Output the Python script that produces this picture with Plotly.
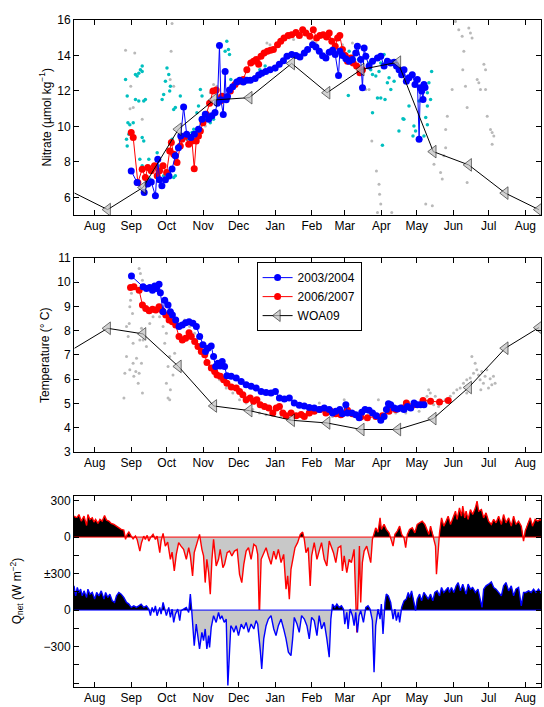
import numpy as np
import pandas as pd
import plotly.graph_objects as go

# ---------------- data (days since 1 Aug of first year) ----------------
MONTH_LABELS = ["Aug", "Sep", "Oct", "Nov", "Dec", "Jan", "Feb", "Mar", "Apr", "May", "Jun", "Jul", "Aug"]

WOA_DAY = [-17, 11, 41, 71, 101, 131, 167, 197, 226, 257, 287, 317, 348, 376.5]
WOA_NO3 = [6.24, 5.31, 6.56, 9.84, 11.49, 11.62, 13.55, 11.90, 13.21, 13.62, 8.58, 7.83, 6.24, 5.31]
WOA_T = [7.28, 8.10, 7.87, 6.53, 4.90, 4.71, 4.31, 4.20, 3.93, 3.93, 4.38, 5.66, 7.28, 8.13]

B_NO3_DAY = [31, 36, 42, 45, 48, 51.5, 53.5, 55, 57, 60, 63, 65.6, 68.4, 71, 73, 75.4, 78, 81.6, 84.5, 88,
             91, 93.8, 96.6, 99.4, 102, 104, 105.8, 107, 109, 110.6, 111.5, 112.6, 114.3, 117, 120.5, 123,
             126, 129, 132, 136, 139, 141.6, 145, 148.6, 153, 156.5, 160, 163, 167, 170.6, 174, 177.7,
             180.5, 184.7, 187.5, 190.4, 193.2, 196, 198.8, 201.6, 203.9, 206.7, 207.8, 210, 212.9, 215.7,
             218.5, 221.3, 222.7, 225.5, 227, 228.4, 229.8, 232.6, 235.5, 239.7, 242.5, 245.3, 248.1,
             250.9, 253.8, 255.8, 258, 260.2, 262.2, 264.2, 266.4, 269.2, 271.5, 273.5, 275, 276, 277.2,
             278.3, 279.1, 280]
B_NO3 = [7.49, 6.84, 6.28, 6.75, 6.87, 6.09, 8.15, 7.0, 6.65, 7.0, 7.2, 7.6, 8.34, 8.8, 9.46, 11.1, 9.56,
         9.37, 9.56, 9.84, 10.4, 10.68, 10.4, 10.6, 10.78, 11.3, 14.56, 11.5, 10.67, 13.1, 11.5, 11.68,
         12.05, 12.24, 12.5, 12.6, 12.5, 12.6, 12.6, 12.7, 12.9, 13.0, 13.1, 13.2, 13.3, 13.5, 13.7, 13.96,
         14.05, 14.0, 13.92, 14.14, 14.33, 14.6, 14.48, 14.24, 13.99, 13.86, 14.18, 14.3, 14.05, 12.87,
         14.24, 14.0, 13.81, 13.68, 13.77, 14.14, 14.52, 13.77, 12.18, 14.42, 13.96, 13.4, 13.68, 13.86,
         13.96, 13.4, 13.68, 13.58, 13.62, 13.4, 13.2, 12.92, 13.2, 12.55, 12.74, 12.92, 12.37, 12.64,
         9.27, 12.18, 11.99, 11.52, 12.37, 12.2]

R_NO3_DAY = [31, 32.7, 36.6, 40.3, 43, 45, 48, 50.7, 53, 55, 58, 61, 63.6, 65, 67, 69.8, 72.6, 74, 76.8,
             79.7, 82.5, 84.4, 86.1, 88, 89.6, 91.8, 94.6, 97.4, 100.3, 103, 106.4, 108, 110.6, 115, 119,
             122.8, 126, 129, 132.3, 134.7, 137, 139, 141, 143.6, 146.4, 149, 151.5, 155, 157.7, 160.5,
             164, 167, 170.6, 173.5, 176.3, 179, 182.4, 185.3, 188.1, 190.9, 193.7, 196.6, 198.8, 201,
             203.9, 205.9, 207.8, 210, 212.4, 214.3, 217.2, 219.1, 222, 224.8, 227]
R_NO3 = [9.65, 9.37, 6.84, 7.59, 7.12, 7.68, 7.5, 7.78, 7.22, 7.5, 7.78, 7.4, 8.62, 9.09, 8.43, 7.96, 8.9,
         9.28, 9.46, 9.0, 9.18, 7.62, 9.18, 9.46, 9.74, 10.2, 10.68, 11.3, 11.99, 12.05, 11.43, 11.7, 11.6,
         11.99, 12.37, 12.55, 12.65, 13.2, 13.58, 13.68, 13.77, 13.5, 13.96, 14.14, 14.24, 14.3, 14.33,
         14.61, 14.8, 14.99, 15.12, 15.17, 15.3, 15.12, 15.45, 15.27, 15.08, 15.45, 14.99, 15.12, 15.17,
         15.04, 15.27, 14.8, 14.52, 14.99, 15.12, 14.33, 14.0, 13.68, 13.86, 13.58, 13.4, 13.02, 13.2]

C_NO3_DAY = [26.2, 27.6, 28.2, 29, 27, 27.6, 29.8, 32.7, 34.6, 36, 37.4, 38.8, 40.3, 40.3, 34.6, 37.4, 41.6,
             43, 40.3, 41.6, 38.3, 40.3, 43, 46.8, 45.9, 57.2, 58.5, 60, 61.3, 62.8, 64.2, 63.6, 67, 68.4,
             72.6, 65.6, 67, 68.4, 62.8, 53, 55.8, 58.5, 89.6, 91, 88, 86.7, 93.8, 98, 100.8, 102.2, 78.3,
             81.1, 82.5, 84, 112, 113.4, 110.6, 114.3, 115.4, 140, 144.5, 148.6, 153, 155.7, 215.7, 218.5,
             221.3, 223.6, 231.2, 232.6, 234, 235.5, 238.3, 241, 242.5, 245.3, 247.3, 249.5, 248.1, 239.7,
             242.5, 246.1, 251, 253.8, 235.5, 243.9, 261.3, 257.9, 262.1, 266.4, 270.6, 272, 279.1, 282,
             283.3, 284.7, 285.6, 282, 280.6, 282, 275, 269.8, 215]
C_NO3 = [12.65, 11.71, 10.2, 9.56, 9.28, 8.9, 10.1, 10.2, 12.93, 12.84, 13.0, 13.2, 13.4, 13.1, 11.52, 11.43,
         11.43, 11.52, 9.37, 9.18, 8.15, 7.78, 7.22, 7.03, 8.15, 11.52, 11.8, 12.55, 13.3, 12.93, 12.27,
         11.99, 10.96, 11.06, 11.71, 9.28, 7.12, 7.22, 7.4, 8.52, 7.78, 7.22, 12.08, 11.71, 11.15, 10.77,
         10.4, 10.2, 10.4, 10.68, 9.28, 9.46, 9.65, 9.84, 14.8, 14.33, 14.24, 14.05, 12.65, 13.2, 13.4,
         13.2, 13.2, 13.4, 14.24, 13.96, 14.52, 13.77, 13.96, 13.58, 13.2, 12.93, 12.84, 13.1, 13.58, 14.05,
         13.77, 12.74, 12.46, 11.6, 11.6, 11.52, 12.08, 12.55, 10.77, 8.94, 10.43, 9.74, 10.4, 11.15, 10.02,
         9.74, 9.46, 11.9, 12.46, 11.52, 13.1, 11.15, 10.5, 10.1, 11.43, 9.46, 11.74]

G_NO3_DAY = [26.2, 34, 30.6, 30, 32.7, 40.3, 64.8, 65.6, 64, 67, 98, 100.8, 103.6, 146, 148.6, 165, 168.6,
             172.8, 93.8, 50, 53, 184.7, 187.5, 201.6, 210, 218.5, 229.8, 232.6, 234.9, 238.8, 241, 241.5,
             242.5, 239.7, 251.8, 280.6, 287.6, 296, 297.5, 298.9, 297.5, 303, 305.8, 308.6, 311.5, 312.9,
             312, 314.3, 317.1, 318.5, 319.9, 315.7, 315.7, 324.2, 325.6, 327, 329.9, 331.3, 331.3, 332.7,
             335.5, 336.9, 338.3, 336.9, 286.2, 293.2, 294.6]
G_NO3 = [14.3, 14.14, 12.27, 11.0, 11.06, 10.4, 14.24, 15.8, 12.65, 12.27, 11.9, 12.37, 12.27, 14.7, 14.6,
         14.99, 14.9, 15.27, 10.02, 7.78, 7.68, 14.8, 14.7, 14.9, 14.6, 14.7, 12.08, 12.08, 9.18, 7.49, 6.74,
         6.18, 5.62, 5.15, 5.15, 5.62, 7.87, 8.34, 8.8, 10.58, 9.83, 12.08, 15.92, 15.45, 15.08, 14.24,
         13.2, 12.27, 15.55, 15.27, 14.99, 11.06, 6.84, 12.65, 12.46, 12.08, 13.5, 13.2, 12.08, 10.58,
         9.83, 9.65, 9.46, 9.0, 5.53, 7.4, 7.03]

B_T_DAY = [31.2, 41.1, 43.9, 46.7, 49, 50.9, 52.3, 54.6, 55.7, 58, 59.4, 62.2, 64.2, 65.9, 68.7, 71.5, 74.3,
           77.1, 80, 83.3, 86.2, 89, 91.8, 94, 96, 98.8, 100.8, 102.5, 104.5, 106.4, 108.1, 110.1, 112.1,
           115.7, 120, 124.2, 128.4, 132.6, 136.9, 141.1, 145.3, 149.5, 153.2, 156.6, 160.8, 165, 169.2,
           173.5, 177.7, 181.9, 186.1, 190.4, 194.6, 198.8, 201.6, 204.4, 207.8, 210, 212.9, 214.3, 218,
           221.3, 224.2, 226.4, 229.2, 232.6, 235.5, 238.8, 242.5, 245.3, 247.3, 249, 250.9, 253.8, 256.6,
           259.4, 262.2, 265, 267.9, 270.7, 273.5, 276.3, 279.1]
B_T = [10.25, 9.81, 9.74, 9.78, 9.67, 9.84, 9.74, 9.92, 9.56, 8.78, 9.26, 9.06, 8.78, 8.65, 8.44, 8.17, 8.24,
       8.33, 8.37, 8.31, 8.17, 7.76, 7.42, 7.14, 7.28, 7.37, 6.94, 6.53, 6.66, 6.55, 6.73, 6.53, 6.14, 6.12,
       6.05, 5.91, 5.77, 5.71, 5.64, 5.5, 5.46, 5.43, 5.5, 5.23, 5.19, 5.23, 5.02, 4.93, 4.9, 4.84, 4.82,
       4.75, 4.82, 4.75, 4.61, 4.68, 4.75, 4.58, 4.95, 4.61, 4.61, 4.54, 4.41, 4.64, 4.75, 4.72, 4.61, 4.5,
       4.31, 4.47, 4.75, 4.99, 4.95, 4.82, 4.78, 4.82, 4.75, 4.88, 4.82, 5.02, 4.95, 4.95, 4.95]

R_T_DAY = [30.4, 33.3, 37.7, 40.5, 43.3, 46.2, 49, 51.8, 54.6, 57.4, 60.3, 63.1, 65.9, 68.7, 71.5, 74.3,
           77.1, 80, 81.9, 84.8, 87.6, 90.4, 93.3, 95.2, 98.9, 101.7, 103.7, 106.5, 109.3, 112.1, 115.8, 120,
           122.8, 125.6, 128.4, 131.8, 134.7, 137.5, 140.3, 144, 147.6, 151, 153.9, 156.6, 159.5, 162.3,
           166.5, 170.7, 175, 177.7, 181.9, 186.1, 191, 196, 200.2, 204.4, 208.7, 214.3, 218.5, 225.5,
           231.2, 238.3, 243.9, 249.5, 255.2, 260.8, 264.2, 270.7, 278.3, 284.7, 292.3, 299.7]
R_T = [9.78, 9.81, 9.67, 9.06, 8.92, 8.82, 8.88, 8.85, 8.99, 8.82, 8.65, 8.44, 8.37, 8.24, 7.76, 7.62, 7.69,
       7.92, 7.76, 7.56, 7.35, 7.14, 7.01, 6.69, 6.46, 6.32, 6.18, 6.12, 5.98, 5.84, 5.68, 5.64, 5.5, 5.36,
       5.16, 5.23, 5.09, 5.16, 4.95, 4.88, 4.82, 4.61, 4.82, 4.88, 4.61, 4.5, 4.61, 4.5, 4.55, 4.47, 4.61,
       4.68, 4.75, 4.61, 4.68, 4.58, 4.54, 4.72, 4.58, 4.45, 4.41, 4.47, 4.5, 4.68, 4.75, 4.82, 5.02, 4.95,
       5.13, 5.09, 5.06, 5.13]

G_T_DAY = [24.8, 27, 28.4, 29.3, 29.8, 30.4, 31.2, 32.1, 32.6, 25.6, 27, 29.8, 32.6, 33.2, 34.9, 35.5, 36.9,
           37.7, 39.7, 40.5, 38.3, 39.7, 37.7, 38.8, 40.5, 36, 41.1, 43.9, 46.7, 49.5, 52.3, 55, 58, 60.8,
           59.4, 62.2, 63.6, 60.8, 62.2, 63.6, 64.2, 66.4, 67.8, 72, 76.3, 80.5, 84.7, 89, 93.2, 97.4, 101.6,
           105.9, 111.5, 117.1, 122.8, 128.4, 134, 139.6, 145.3, 150.9, 158, 165, 173.5, 181.9, 190.4, 201.6,
           211.5, 212.9, 224.2, 229.8, 240.5, 241.6, 243.9, 255.2, 263.7, 275, 281.7, 283.1, 284.5, 285.9,
           287.3, 288.7, 291.5, 297.1, 301.4, 304.2, 307, 309.8, 312.6, 315.4, 318.3, 319.7, 321.1, 322.5,
           323.9, 325.3, 326.7, 328.1, 329.5, 330.9, 332.4, 333.8, 335.2, 336.6, 338, 339.4, 327.3, 315.4]
G_T = [5.23, 8.17, 7.76, 8.3, 8.99, 9.26, 9.54, 8.71, 7.48, 6.25, 6.94, 6.39, 6.66, 6.12, 6.32, 6.87, 5.84,
       6.25, 6.66, 5.43, 7.62, 8.1, 10.56, 10.36, 10.08, 9.74, 7.62, 7.35, 8.3, 8.58, 8.78, 8.58, 8.17, 7.9,
       7.48, 6.53, 6.94, 5.84, 5.23, 5.16, 5.57, 6.18, 7.07, 8.3, 8.44, 8.17, 7.9, 7.21, 6.94, 6.53, 6.25,
       5.98, 5.64, 5.43, 5.16, 5.02, 4.75, 4.61, 4.54, 4.61, 4.47, 4.34, 4.47, 4.54, 5.02, 4.47, 5.16, 4.61,
       4.54, 4.34, 5.16, 4.47, 4.27, 4.61, 4.61, 4.68, 5.3, 5.57, 5.43, 5.16, 4.95, 5.3, 4.88, 5.16, 5.3,
       5.43, 5.57, 5.64, 5.84, 5.98, 6.05, 6.94, 6.25, 6.66, 6.39, 6.18, 5.98, 6.32, 5.84, 6.12, 6.39, 5.64,
       6.02, 5.77, 6.12, 5.84, 5.57, 5.43]

# Net heat flux, W m-2 (red = 2006/2007, blue = 2003/2004)
QR_DAY = [-17.5, -15.2, -13.3, -11.3, -9.0, -6.8, -5.7, -4.0, -2.0, -0.6, 0.8, 2.8, 4.5, 6.4, 8.4, 10.1, 12.1,
          14.0, 16.3, 18.5, 20.5, 22.5, 24.7, 26.2, 27.6, 29.0, 31.0, 32.6, 34.6, 36.0, 38.3, 39.7, 41.6,
          43.0, 44.5, 45.9, 47.3, 49.5, 51.5, 52.9, 55.2, 56.3, 58.0, 59.9, 61.9, 64.2, 65.6, 67.5, 69.2,
          71.2, 73.2, 75.4, 77.7, 79.7, 81.1, 83.0, 84.4, 86.7, 88.9, 90.9, 92.3, 93.7, 95.1, 96.6, 98.0,
          99.4, 100.8, 103.0, 105.0, 106.4, 108.7, 110.1, 112.3, 114.3, 116.3, 118.5, 120.8, 122.8, 124.7,
          126.4, 128.4, 130.4, 132.6, 134.9, 136.8, 138.2, 139.6, 141.1, 143.3, 145.3, 147.2, 149.5, 151.8,
          153.7, 155.7, 158.0, 160.2, 162.2, 163.6, 165.0, 166.4, 167.8, 169.8, 172.0, 174.3, 176.3, 177.7,
          179.1, 181.0, 182.7, 183.9, 186.1, 188.4, 190.3, 192.3, 194.6, 196.8, 198.8, 200.2, 202.4, 204.4,
          206.4, 208.6, 210.0, 211.5, 213.7, 215.7, 217.6, 219.9, 222.2, 223.3, 224.4, 225.5, 226.9, 228.4,
          230.6, 232.6, 234.0, 235.4, 236.8, 238.2, 240.2, 241.9, 243.0, 244.7, 245.3, 247.2, 249.5, 251.7,
          252.9, 254.5, 256.5, 258.5, 260.2, 262.2, 263.6, 265.0, 266.9, 269.2, 271.4, 273.4, 275.4, 277.6,
          279.9, 281.9, 283.3, 284.7, 286.1, 287.5, 288.9, 289.7, 291.2, 292.3, 294.0, 295.9, 297.9, 299.6,
          301.6, 303.5, 305.8, 307.2, 309.2, 310.9, 312.0, 313.7, 314.8, 316.5, 318.5, 320.4, 322.7, 324.1,
          325.5, 327.8, 329.7, 331.7, 333.9, 336.2, 338.2, 340.2, 342.4, 344.7, 346.6, 348.6, 350.9, 353.1,
          355.1, 357.0, 359.3, 361.6, 363.5, 364.9, 367.2, 369.2, 371.1, 373.4, 375.6, 377.6, 379.0]
QR = [172, 158, 185, 131, 172, 95, 185, 145, 158, 123, 145, 112, 145, 131, 177, 139, 131, 112, 104, 90, 76,
      63, 57, -19, 22, 41, 8, -14, 8, -19, -115, -46, 8, -19, 14, -33, -5, 22, -19, 8, -128, -33, 30, -74,
      -41, -183, -123, -278, -142, -46, -74, -101, -183, -87, -155, -319, -128, -46, 22, -101, -155, -374,
      -183, -292, -469, -183, -19, -237, -183, -101, -251, -224, -128, -115, -155, -115, -101, -306, -374,
      -224, -115, -87, -183, -60, -74, -142, -660, -183, -128, -87, -155, -224, -115, -183, -101, -210,
      -142, -428, -319, -510, -265, -183, -87, -46, 22, 41, -19, -128, -87, -401, -155, -46, -183, -115,
      -46, -183, -237, -33, -74, -128, -210, -87, -74, -278, -155, -292, -183, -210, -101, -783, -456, -74,
      -537, -210, -115, -74, -155, -210, -19, 22, 76, 41, 158, 63, 104, 104, 63, 35, -33, -74, 22, 49, 90,
      22, -5, -87, 22, 63, 76, 35, 104, 117, 131, 104, 63, 22, 90, 35, -5, -74, -306, -46, 35, 158, 90, 131,
      172, 104, 158, 213, 145, 240, 172, 254, 158, 213, 145, 226, 185, 240, 295, 213, 226, 158, 199, 131,
      104, 145, 117, 172, 104, 185, 117, 158, 90, 172, 104, 131, 90, -33, 49, 117, 158, 90, 145, 131, 145,
      131]

QB_DAY = [-17.5, -16.1, -14.7, -13.3, -11.9, -10.5, -9.0, -6.8, -5.7, -4.0, -2.0, 0.0, 1.7, 3.6, 5.6, 7.9,
          9.3, 11.2, 12.9, 14.9, 16.9, 18.5, 20.5, 22.5, 24.7, 27.0, 29.0, 31.0, 33.2, 35.4, 37.4, 39.4,
          41.6, 43.9, 45.9, 47.3, 48.7, 50.1, 51.5, 52.9, 55.2, 56.3, 58.0, 59.1, 60.8, 62.8, 64.2, 65.6,
          67.0, 68.4, 70.4, 72.1, 73.2, 75.4, 77.7, 79.7, 81.1, 82.2, 83.3, 84.4, 86.1, 87.3, 88.9, 90.9,
          92.3, 93.7, 95.1, 96.6, 97.4, 98.8, 100.8, 103.0, 105.0, 106.4, 107.8, 109.8, 111.5, 112.9, 114.3,
          115.4, 117.1, 118.0, 119.9, 121.9, 124.2, 126.4, 128.4, 130.4, 132.6, 134.9, 136.8, 138.2, 140.5,
          141.6, 143.3, 145.3, 147.2, 149.5, 151.8, 153.7, 155.7, 158.0, 160.2, 162.2, 164.2, 166.4, 167.8,
          169.2, 171.5, 173.4, 175.4, 177.7, 179.9, 181.9, 183.9, 186.1, 188.4, 190.3, 192.3, 194.6, 196.8,
          198.8, 200.2, 201.6, 203.6, 205.3, 207.2, 209.2, 210.9, 212.0, 213.7, 214.8, 216.5, 218.5, 219.9,
          221.3, 222.7, 224.1, 225.5, 227.8, 229.8, 231.7, 233.4, 235.4, 236.8, 238.2, 240.2, 241.9, 243.0,
          244.4, 246.1, 247.2, 248.9, 250.9, 252.9, 254.5, 255.7, 257.4, 258.5, 260.2, 262.2, 264.1, 265.8,
          266.9, 268.6, 270.6, 272.0, 273.4, 275.4, 277.1, 279.0, 281.0, 282.7, 284.7, 286.6, 288.3, 290.3,
          292.3, 294.0, 295.9, 297.9, 299.6, 300.7, 302.4, 304.4, 306.4, 308.1, 310.0, 312.0, 313.7, 314.8,
          316.5, 318.5, 320.4, 322.7, 324.9, 326.9, 328.3, 329.7, 331.7, 333.9, 336.2, 338.2, 340.2, 342.4,
          344.7, 346.6, 348.6, 350.9, 353.1, 355.1, 357.0, 359.3, 361.6, 363.5, 365.5, 367.8, 370.0, 372.0,
          374.0, 376.2, 379.0]
QB = [199, 117, 186, 145, 172, 117, 158, 104, 172, 131, 145, 90, 145, 117, 158, 90, 145, 104, 131, 76, 63,
      117, 145, 131, 104, 63, 49, 22, 35, 22, 35, 49, 22, 35, 8, -46, 22, -19, 35, -46, 22, -33, 63, 22, -46,
      22, -60, 8, -101, -33, 8, -87, -5, 8, 22, -19, 131, 8, -115, -292, -115, -210, -319, -183, -251, -155,
      -319, -210, -306, -142, -46, -101, -19, -74, -46, -101, -74, -619, -346, -128, -155, -183, -128, -210,
      -115, -155, -101, -183, -115, -155, -87, -115, -346, -483, -237, -128, -74, -46, -155, -210, -128,
      -74, -155, -237, -346, -374, -237, -60, -115, -183, -46, -74, -128, -237, -60, -87, -210, -46, -155,
      -101, -237, -387, -74, 49, 22, 49, 22, 35, 8, -115, -19, -155, 8, -46, -128, -19, -183, -46, -5, -101,
      22, 35, 8, -87, -510, -128, 8, -74, 49, -196, 63, 131, 117, 63, -74, 8, -87, -19, -101, 22, 76, 90,
      145, 104, 158, 76, -5, 90, 131, 76, 145, 117, 90, 131, 76, 145, 158, 117, 186, 145, 172, 186, 145,
      186, 145, 199, 226, 158, 213, 172, 131, 213, 172, 186, 145, 172, 90, 22, 172, 199, 213, 232, 186, 172,
      145, 117, 199, 226, 158, 199, 117, 172, 186, 35, 145, 145, 158, 145, 172, 145, 172, 131]

Q_TICKS = [-300, 0, 300, 600, 900]
Q_TICKTEXT = ["\u2212300", "0", "\u00b1300", "0", "300"]
Q_OFFSET_RED = 600

# ---------------- helpers ----------------
BASE = pd.Timestamp("2006-08-01")


def to_date(days):
    return BASE + pd.to_timedelta(np.asarray(days, dtype=float), unit="D")


X_RANGE = [to_date([-17.5])[0], to_date([378.3])[0]]
FONT = "Liberation Sans, Arial, Helvetica, sans-serif"
BLUE = "#0000ff"
RED = "#ff0000"
CYAN = "#00bfbf"
LGRAY = "#b9b9b9"

fig = go.Figure()


def woa_trace(vals, xa, ya, legend):
    sizes = [0] + [11] * (len(vals) - 1)
    return go.Scatter(x=to_date(WOA_DAY), y=vals, mode="lines+markers", name="WOA09",
                      xaxis=xa, yaxis=ya, showlegend=legend, legendrank=3,
                      line=dict(color="black", width=1),
                      marker=dict(symbol="triangle-left", size=sizes, color="#c0c0c0",
                                  line=dict(color="black", width=0.8)))


def dots(days, vals, color, size, xa, ya):
    return go.Scatter(x=to_date(days), y=vals, mode="markers", xaxis=xa, yaxis=ya, showlegend=False,
                      marker=dict(color=color, size=size, line=dict(width=0)), hoverinfo="skip")


def series(days, vals, color, name, xa, ya, legend, rank):
    return go.Scatter(x=to_date(days), y=vals, mode="lines+markers", name=name, xaxis=xa, yaxis=ya,
                      showlegend=legend, legendrank=rank,
                      line=dict(color=color, width=1),
                      marker=dict(color=color, size=7, line=dict(width=0)))


# --- top panel: nitrate
fig.add_trace(dots(G_NO3_DAY, G_NO3, LGRAY, 3, "x", "y"))
fig.add_trace(dots(C_NO3_DAY, C_NO3, CYAN, 3.5, "x", "y"))
fig.add_trace(series(R_NO3_DAY, R_NO3, RED, "2006/2007", "x", "y", False, 2))
fig.add_trace(series(B_NO3_DAY, B_NO3, BLUE, "2003/2004", "x", "y", False, 1))
fig.add_trace(woa_trace(WOA_NO3, "x", "y", False))

# --- middle panel: temperature
fig.add_trace(dots(G_T_DAY, G_T, LGRAY, 3, "x2", "y2"))
fig.add_trace(series(R_T_DAY, R_T, RED, "2006/2007", "x2", "y2", True, 2))
fig.add_trace(series(B_T_DAY, B_T, BLUE, "2003/2004", "x2", "y2", True, 1))
fig.add_trace(woa_trace(WOA_T, "x2", "y2", True))


# --- bottom panel: Qnet
def with_crossings(d, q):
    xs, ys = [d[0]], [q[0]]
    for i in range(1, len(d)):
        if q[i - 1] * q[i] < 0:
            t = q[i - 1] / (q[i - 1] - q[i])
            xs.append(d[i - 1] + t * (d[i] - d[i - 1]))
            ys.append(0.0)
        xs.append(d[i])
        ys.append(q[i])
    return np.array(xs, float), np.array(ys, float)


def qnet_traces(days, vals, offset, color):
    xs, ys = with_crossings(days, vals)
    xd = to_date(xs)
    base = np.full_like(ys, offset)
    common = dict(xaxis="x3", yaxis="y3", showlegend=False, hoverinfo="skip", mode="lines")
    out = [
        go.Scatter(x=xd, y=base, line=dict(width=0), **common),
        go.Scatter(x=xd, y=offset + np.maximum(ys, 0), fill="tonexty", fillcolor="black",
                   line=dict(width=0), **common),
        go.Scatter(x=xd, y=base, line=dict(width=0), **common),
        go.Scatter(x=xd, y=offset + np.minimum(ys, 0), fill="tonexty", fillcolor="#c8c8c8",
                   line=dict(width=0), **common),
        go.Scatter(x=X_RANGE, y=[offset, offset], line=dict(color=color, width=1), **common),
        go.Scatter(x=to_date(days), y=offset + np.asarray(vals, float), line=dict(color=color, width=1.4),
                   **common),
    ]
    return out


for tr in qnet_traces(QR_DAY, QR, Q_OFFSET_RED, RED):
    fig.add_trace(tr)
for tr in qnet_traces(QB_DAY, QB, 0, BLUE):
    fig.add_trace(tr)

# ---------------- layout ----------------
xcommon = dict(type="date", range=X_RANGE, tick0="2006-08-01", dtick="M1", tickformat="%b",
               ticks="inside", ticklen=5, tickcolor="black", showline=True, linecolor="black",
               linewidth=1, mirror="ticks", showgrid=False, zeroline=False,
               tickfont=dict(family=FONT, size=12, color="black"))
ycommon = dict(ticks="inside", ticklen=5, tickcolor="black", showline=True, linecolor="black",
               linewidth=1, mirror="ticks", showgrid=False, zeroline=False,
               tickfont=dict(family=FONT, size=12, color="black"))

D_TOP = [0.7075, 1.0]
D_MID = [0.3522, 0.6433]
D_BOT = [0.0, 0.287]

fig.update_layout(
    width=544, height=707,
    margin=dict(l=74, r=2, t=20, b=17),
    paper_bgcolor="white", plot_bgcolor="white",
    font=dict(family=FONT, size=12, color="black"),
    xaxis=dict(anchor="y", **xcommon),
    xaxis2=dict(anchor="y2", **xcommon),
    xaxis3=dict(anchor="y3", **xcommon),
    yaxis=dict(anchor="x", domain=D_TOP, range=[5, 16], tick0=0, dtick=2, **ycommon),
    yaxis2=dict(anchor="x2", domain=D_MID, range=[3, 11], tick0=0, dtick=1, **ycommon),
    yaxis3=dict(anchor="x3", domain=D_BOT, range=[-632, 941], tickmode="array", tickvals=Q_TICKS,
                ticktext=Q_TICKTEXT,
                minor=dict(tickmode="linear", tick0=0, dtick=150, ticks="inside", ticklen=5,
                           tickcolor="black", showgrid=False),
                **ycommon),
    legend=dict(x=0.391, y=0.637, xanchor="left", yanchor="top", bordercolor="black", borderwidth=1,
                bgcolor="white", font=dict(family=FONT, size=12), itemwidth=30,
                traceorder="normal", tracegroupgap=0),
    showlegend=True,
)

TITLE_FONT = dict(family=FONT, size=12, color="black")
fig.add_annotation(text="Nitrate (\u00b5mol kg<sup>\u22121</sup>)", xref="paper", yref="paper",
                   x=-0.062, y=sum(D_TOP) / 2, textangle=-90, showarrow=False, font=TITLE_FONT,
                   xanchor="center", yanchor="middle")
fig.add_annotation(text="Temperature (\u00b0 C)", xref="paper", yref="paper",
                   x=-0.062, y=sum(D_MID) / 2, textangle=-90, showarrow=False, font=TITLE_FONT,
                   xanchor="center", yanchor="middle")
fig.add_annotation(text="Q<sub>net</sub> (W m<sup>\u22122</sup>)", xref="paper", yref="paper",
                   x=-0.122, y=sum(D_BOT) / 2, textangle=-90, showarrow=False, font=TITLE_FONT,
                   xanchor="center", yanchor="middle")

fig.write_html("out.html")
